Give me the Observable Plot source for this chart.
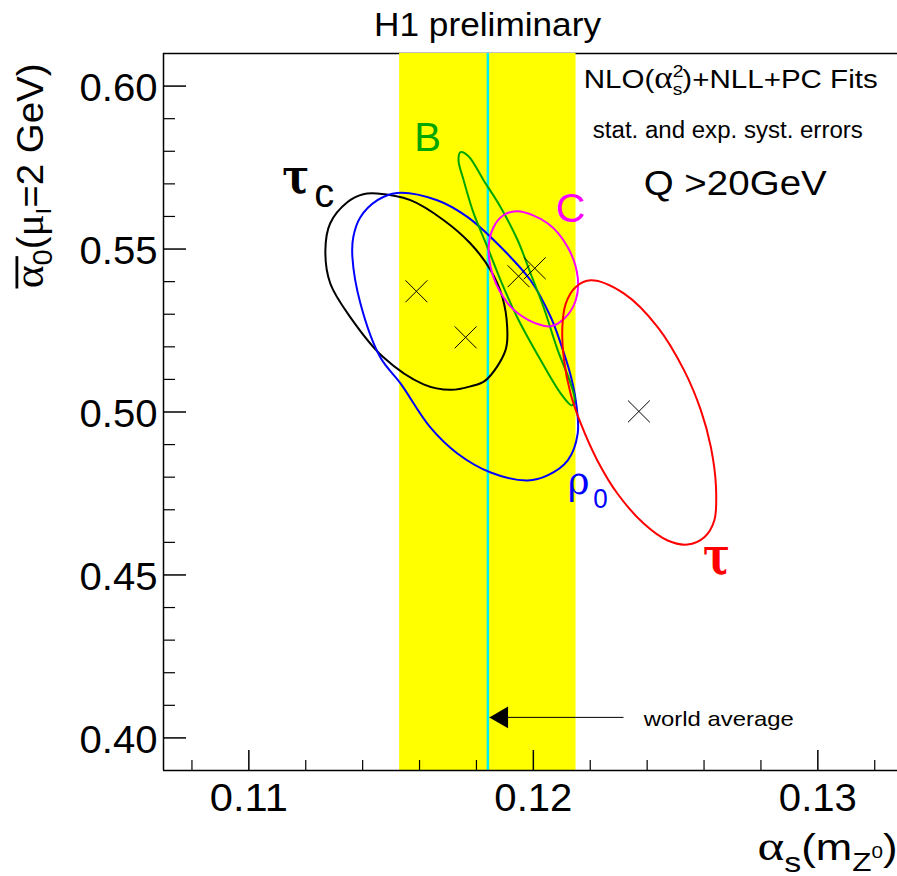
<!DOCTYPE html>
<html><head><meta charset="utf-8">
<script src="https://cdn.jsdelivr.net/npm/d3@7"></script>
<script src="https://cdn.jsdelivr.net/npm/@observablehq/plot@0.6"></script>
<style>
html,body{margin:0;padding:0;background:#fff;overflow:hidden;}
#chart svg{display:block;}
</style>
</head><body><div id="chart"></div>
<script>
// ---- tick values ----
const xMajorTicks = [0.11, 0.12, 0.13];
const xMinorTicks = [0.108, 0.112, 0.114, 0.116, 0.118, 0.122, 0.124, 0.126, 0.128, 0.132];
const yMajorTicks = [0.40, 0.45, 0.50, 0.55, 0.60];
const yMinorTicks = [0.41, 0.42, 0.43, 0.44, 0.46, 0.47, 0.48, 0.49, 0.51, 0.52, 0.53, 0.54, 0.56, 0.57, 0.58, 0.59];

// ---- world average alpha_s ----
const worldAverage = 0.1184;
const worldAverageError = 0.0031;

// ---- fit central values ----
const fitNames = ["τc", "ρ0", "B", "C", "τ"];
const fitAlphaS = [0.11589, 0.11762, 0.11948, 0.12005, 0.12371];
const fitAlpha0 = [0.53704, 0.52291, 0.54165, 0.54410, 0.50018];

// ---- error contours [alpha_s, alpha_0] ----
const tauCContour = [[0.11451,0.56705],[0.11568,0.56499],[0.11685,0.55885],[0.11779,0.55169],[0.11850,0.54349],[0.11891,0.53529],[0.11908,0.52607],[0.11902,0.51892],[0.11832,0.50970],[0.11779,0.50786],[0.11709,0.50679],[0.11614,0.50848],[0.11473,0.51677],[0.11357,0.52905],[0.11286,0.53950],[0.11269,0.54963],[0.11286,0.55792],[0.11346,0.56437],[0.11402,0.56683]];
const rho0Contour = [[0.11521,0.56723],[0.11662,0.56499],[0.11768,0.55986],[0.11873,0.55169],[0.11990,0.54042],[0.12061,0.52915],[0.12096,0.52107],[0.12131,0.51124],[0.12149,0.50356],[0.12156,0.49343],[0.12121,0.48514],[0.12050,0.48053],[0.11980,0.47899],[0.11850,0.48145],[0.11733,0.48728],[0.11638,0.49527],[0.11533,0.50878],[0.11462,0.51677],[0.11392,0.53335],[0.11364,0.54748],[0.11367,0.55362],[0.11392,0.55977],[0.11452,0.56499]];
const bContour = [[0.11744,0.57973],[0.11772,0.57850],[0.11825,0.57113],[0.11885,0.56284],[0.11945,0.55270],[0.11990,0.54257],[0.12036,0.53213],[0.12086,0.51892],[0.12131,0.50878],[0.12145,0.50356],[0.12135,0.50203],[0.12096,0.50571],[0.12026,0.51585],[0.11945,0.52875],[0.11885,0.54042],[0.11839,0.55055],[0.11790,0.56100],[0.11755,0.57113],[0.11737,0.57727]];
const cContour = [[0.11945,0.56161],[0.12050,0.55792],[0.12121,0.55055],[0.12156,0.54134],[0.12149,0.53428],[0.12110,0.52875],[0.12061,0.52629],[0.12008,0.52721],[0.11955,0.52967],[0.11910,0.53335],[0.11860,0.54134],[0.11843,0.55055],[0.11860,0.55670],[0.11895,0.56038]];
const tauContour = [[0.12202,0.54042],[0.12319,0.53633],[0.12437,0.52607],[0.12530,0.51278],[0.12589,0.50049],[0.12624,0.48922],[0.12642,0.47693],[0.12636,0.46671],[0.12601,0.46158],[0.12542,0.45934],[0.12472,0.46057],[0.12389,0.46569],[0.12296,0.47491],[0.12225,0.48514],[0.12167,0.49640],[0.12131,0.50562],[0.12108,0.51585],[0.12102,0.52607],[0.12114,0.53326],[0.12149,0.53836]];

// ---- layout ----
const W = 897, H = 876, mT = 53, mB = 106, mL = 163, mR = 0;
const innerW = W - mL - mR, innerH = H - mT - mB;
const xDomain = [0.107, 0.1328], yDomain = [0.39, 0.61];
const sans = "'Liberation Sans', Arial, Helvetica, sans-serif";
const serif = "'DejaVu Serif', 'Liberation Serif', serif";
const green = "#00a600";

const fits = fitNames.map((name, i) => ({name, x: fitAlphaS[i], y: fitAlpha0[i]}));
const contour = (pts, color) => Plot.line(pts, {x: d => d[0], y: d => d[1], curve: "catmull-rom-closed", stroke: color, strokeWidth: 2});

const svg = Plot.plot({
  width: W, height: H,
  marginTop: mT, marginBottom: mB, marginLeft: mL, marginRight: mR,
  x: {domain: xDomain},
  y: {domain: yDomain},
  style: {fontFamily: sans, background: "white", color: "black", overflow: "visible"},
  marks: [
    Plot.ruleY([yDomain[1]], {stroke: "black", strokeWidth: 1.5}),
    Plot.rect([worldAverage], {x1: d => d - worldAverageError, x2: d => d + worldAverageError, y1: () => yDomain[0], y2: () => yDomain[1], fill: "#ffff00"}),
    Plot.ruleX([worldAverage], {stroke: "#00f0f0", strokeWidth: 2.5}),
    contour(tauCContour, "black"),
    contour(rho0Contour, "#0000ff"),
    contour(bContour, green),
    contour(cContour, "#ff00ff"),
    contour(tauContour, "#ff0000"),
    Plot.dot(fits, {x: "x", y: "y", symbol: "times", r: 10, stroke: "black", strokeWidth: 1}),
    // world-average arrow
    Plot.link([worldAverage], {x1: d => d, x2: () => 0.1231, y1: () => 0.4063, y2: () => 0.4063, stroke: "black", strokeWidth: 1, dx: 2}),
    Plot.dot([worldAverage], {x: d => d, y: () => 0.4063, symbol: "triangle", r: 8, rotate: -90, fill: "black", stroke: "none", dx: 14}),
    // axes frame and ticks
    Plot.ruleX([xDomain[0]], {stroke: "black", strokeWidth: 1.5}),
    Plot.ruleY([yDomain[0]], {stroke: "black", strokeWidth: 1.5}),
    Plot.tickX(xMajorTicks, {x: d => d, insetTop: innerH - 20, stroke: "black", strokeWidth: 1.5}),
    Plot.tickX(xMinorTicks, {x: d => d, insetTop: innerH - 10, stroke: "black", strokeWidth: 1.2}),
    Plot.tickY(yMajorTicks, {y: d => d, insetRight: innerW - 23, stroke: "black", strokeWidth: 1.5}),
    Plot.tickY(yMinorTicks, {y: d => d, insetRight: innerW - 12, stroke: "black", strokeWidth: 1.2}),
    Plot.axisX({ticks: xMajorTicks, tickSize: 0, tickPadding: 14, tickFormat: d3.format(".2f"), fontSize: 38, label: null}),
    Plot.axisY({ticks: yMajorTicks, tickSize: 0, tickPadding: 6, tickFormat: d3.format(".2f"), fontSize: 38, label: null, dy: 3}),
    // texts
    Plot.text(["H1 preliminary"], {text: d => d, x: () => 0.11839, frameAnchor: "top", dy: -18, lineAnchor: "bottom", fontSize: 33}),
    Plot.text(["NLO(αs2)+NLL+PC Fits"], {text: d => d, x: () => 0.12177, y: () => 0.59939, textAnchor: "start", lineAnchor: "bottom", fontSize: 26}),
    Plot.text(["stat. and exp. syst. errors"], {text: d => d, x: () => 0.12209, y: () => 0.58403, textAnchor: "start", lineAnchor: "bottom", fontSize: 23}),
    Plot.text(["Q >20GeV"], {text: d => d, x: () => 0.12388, y: () => 0.56652, textAnchor: "start", lineAnchor: "bottom", fontSize: 35}),
    Plot.text(["world average"], {text: d => d, x: () => 0.12388, y: () => 0.40375, textAnchor: "start", lineAnchor: "bottom", fontSize: 21}),
    Plot.text(["B"], {text: d => d, x: () => 0.11628, y: () => 0.58004, textAnchor: "middle", lineAnchor: "bottom", fontSize: 40, fill: green}),
    Plot.text(["C"], {text: d => d, x: () => 0.12131, y: () => 0.55832, textAnchor: "middle", lineAnchor: "bottom", fontSize: 41, fill: "#ff00ff"}),
    Plot.text(["τ"], {text: d => d, x: () => 0.11117, y: () => 0.56714, textAnchor: "start", lineAnchor: "bottom", fontSize: 48, fontFamily: serif, fontWeight: "bold", fill: "black"}),
    Plot.text(["c"], {text: d => d, x: () => 0.11230, y: () => 0.56284, textAnchor: "start", lineAnchor: "bottom", fontSize: 40, fill: "black"}),
    Plot.text(["ρ0"], {text: d => d, x: () => 0.12121, y: () => 0.47469, textAnchor: "start", lineAnchor: "bottom", fontSize: 40, fontFamily: serif, fill: "#0000ff"}),
    Plot.text(["τ"], {text: d => d, x: () => 0.12596, y: () => 0.45043, textAnchor: "start", lineAnchor: "bottom", fontSize: 52, fontFamily: serif, fontWeight: "bold", fill: "#ff0000"}),
    Plot.text(["α0(μI=2 GeV)"], {text: d => d, frameAnchor: "top-left", dx: -121, dy: 10, rotate: -90, textAnchor: "end", lineAnchor: "bottom", fontSize: 37}),
    Plot.text(["αs(mZ0)"], {text: d => d, frameAnchor: "bottom-right", dy: 89, textAnchor: "end", lineAnchor: "bottom", fontSize: 36})
  ]
});

// rich typesetting (sub/superscripts) and ROOT-like wide glyphs
function texts(match) {
  return d3.select(svg).selectAll("text").filter(function () {
    return typeof match === "string" ? this.textContent === match : match.test(this.textContent);
  });
}
function rich(content, html, length) {
  const t = texts(content);
  if (html) t.html(html);
  if (length) t.attr("textLength", length).attr("lengthAdjust", "spacingAndGlyphs");
}
const SER = "font-family=\"'Liberation Serif', serif\"";
const SAN = "font-family=\"'Liberation Sans', Arial, sans-serif\"";
const NB = "\u00A0";
texts(/^0\.\d\d$/).attr("textLength", 78).attr("lengthAdjust", "spacingAndGlyphs");
rich("H1 preliminary", null, 227);
rich("NLO(αs2)+NLL+PC Fits", `NLO(<tspan ${SER} font-size="31">α</tspan><tspan font-size="17" dy="-11">2</tspan><tspan font-size="17" dx="-9.5" dy="18">s</tspan><tspan dy="-7">)+NLL+PC Fits</tspan>`, 294);
rich("stat. and exp. syst. errors", null, 270);
rich("Q >20GeV", null, 183);
rich("world average", null, 150);
rich("τ", null, 27);
rich("ρ0", `ρ<tspan ${SAN} font-size="28" dx="4" dy="14">0</tspan>`, 40);
rich("α0(μI=2 GeV)", `<tspan font-size="28" text-decoration="overline">${NB.repeat(4)}</tspan><tspan dx="-31" ${SER} font-size="42">α</tspan><tspan font-size="28" dy="9">0</tspan><tspan dy="-9">(</tspan><tspan ${SER} font-size="40">μ</tspan><tspan font-size="22" dy="8">I</tspan><tspan dy="-8">=2 GeV)</tspan>`, 225);
rich("αs(mZ0)", `<tspan ${SER} font-size="42">α</tspan><tspan font-size="28" dy="12">s</tspan><tspan dy="-12">(m</tspan><tspan font-size="26" dy="11">Z</tspan><tspan font-size="17" dy="-13">0</tspan><tspan dy="2">)</tspan>`, 140);

document.getElementById("chart").appendChild(svg);
</script>
</body></html>
